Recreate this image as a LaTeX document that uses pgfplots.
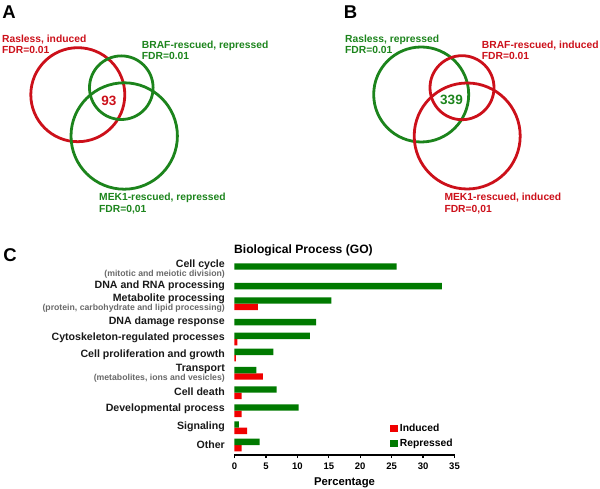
\documentclass[border=0pt]{standalone}
\usepackage{fontspec}
\setmainfont{Liberation Sans}
\usepackage{pgfplots}
\pgfplotsset{compat=1.18}
\definecolor{vred}{RGB}{204,16,26}
\definecolor{vgreen}{RGB}{28,132,28}
\definecolor{bred}{RGB}{240,0,0}
\definecolor{bgreen}{RGB}{0,122,0}
\definecolor{subgray}{RGB}{105,105,105}
\definecolor{txt}{RGB}{25,25,25}
\newcommand{\lab}{\fontsize{10.3}{11.3}\selectfont\bfseries}
\newcommand{\cat}{\fontsize{10.6}{11.6}\selectfont\bfseries}
\newcommand{\sublab}{\fontsize{8.7}{9}\selectfont\bfseries\color{subgray}}
\newcommand{\panel}{\fontsize{18.5}{20}\selectfont\bfseries}

\begin{document}
\begin{tikzpicture}
\useasboundingbox (0,0) rectangle (600pt,488pt);

% overlay axis: one unit = one pixel of the reference, y counted from the bottom
\begin{axis}[hide axis, scale only axis, width=600pt, height=488pt,
    xmin=0, xmax=600, ymin=0, ymax=488,
    at={(0pt,0pt)}, anchor=south west, clip=false]

  % panel letters
  \node[font=\panel] at (axis cs:9,476) {A};
  \node[font=\panel] at (axis cs:350.5,476) {B};
  \node[font=\panel] at (axis cs:10,233) {C};

  % Venn A
  \draw[vred, line width=2.8pt] (axis cs:77.8,393.3) circle[radius=47pt];
  \draw[vgreen, line width=2.8pt] (axis cs:121.3,400.3) circle[radius=31.8pt];
  \draw[vgreen, line width=2.8pt] (axis cs:124.2,352) circle[radius=53.2pt];
  \node[font=\fontsize{13.5}{14}\selectfont\bfseries, text=vred] at (axis cs:109,387.2) {93};
  \node[anchor=west, align=left, text=vred, font=\lab, inner sep=0pt] at (axis cs:2,443.5) {Rasless, induced\\FDR=0.01};
  \node[anchor=west, align=left, text=vgreen, font=\lab, inner sep=0pt] at (axis cs:141.7,437.5) {BRAF-rescued, repressed\\FDR=0.01};
  \node[anchor=west, align=left, text=vgreen, font=\lab, inner sep=0pt] at (axis cs:99,284.5) {MEK1-rescued, repressed\\FDR=0,01};

  % Venn B
  \draw[vgreen, line width=2.8pt] (axis cs:421.2,393.5) circle[radius=47.5pt];
  \draw[vred, line width=2.8pt] (axis cs:462,400.3) circle[radius=32pt];
  \draw[vred, line width=2.8pt] (axis cs:467.2,352) circle[radius=53pt];
  \node[font=\fontsize{13.5}{14}\selectfont\bfseries, text=vgreen] at (axis cs:451.5,388) {339};
  \node[anchor=west, align=left, text=vgreen, font=\lab, inner sep=0pt] at (axis cs:345,443.5) {Rasless, repressed\\FDR=0.01};
  \node[anchor=west, align=left, text=vred, font=\lab, inner sep=0pt] at (axis cs:481.7,437.5) {BRAF-rescued, induced\\FDR=0.01};
  \node[anchor=west, align=left, text=vred, font=\lab, inner sep=0pt] at (axis cs:444.3,284.5) {MEK1-rescued, induced\\FDR=0,01};

  % chart title
  \node[anchor=west, inner sep=0pt, font=\fontsize{12.1}{13}\selectfont\bfseries] at (axis cs:234,237.3) {Biological Process (GO)};
\end{axis}

% bar chart: y = minus the pixel row of the reference
\begin{axis}[at={(234.5pt,33pt)}, anchor=south west,
    scale only axis, width=220pt, height=197pt,
    xmin=0, xmax=35, ymin=-455, ymax=-258,
    xbar, bar width=6.4pt, bar shift=0pt,
    axis x line*=bottom, axis y line*=left,
    y axis line style={draw=none},
    x axis line style={line width=1.2pt},
    xtick={0,5,...,35}, tick align=outside, major tick length=3pt,
    xtick style={line width=1.2pt, black},
    ytick style={draw=none},
    /pgf/number format/assume math mode=true,
    xticklabel style={font=\fontsize{9.5}{10}\selectfont\bfseries, inner sep=0pt, yshift=-5pt},
    ytick={-269.3,-285.5,-303,-322,-338,-354.3,-373.5,-391.7,-409,-426.7,-445},
    yticklabels={
      {Cell cycle\\[-3pt]{\sublab (mitotic and meiotic division)}},
      {DNA and RNA processing},
      {Metabolite processing\\[-3pt]{\sublab (protein, carbohydrate and lipid processing)}},
      {DNA damage response},
      {Cytoskeleton-regulated processes},
      {Cell proliferation and growth},
      {Transport\\[-3pt]{\sublab (metabolites, ions and vesicles)}},
      {Cell death},
      {Developmental process},
      {Signaling},
      {Other}},
    yticklabel style={align=right, inner sep=0pt, font=\cat, text=txt, xshift=-6.5pt},
    xlabel={Percentage},
    xlabel style={font=\fontsize{11.3}{12}\selectfont\bfseries, at={(axis description cs:0.5,0)}, anchor=center, yshift=-28pt},
    legend style={at={(axis cs:24.74,-421.8)}, anchor=north west, draw=none, fill=none,
      inner sep=0pt, row sep=2pt, font=\lab, cells={anchor=west}},
    legend image code/.code={\fill (0pt,-3.8pt) rectangle (7.7pt,3.8pt);},
    clip=false]

  \addplot[draw=none, fill=bred] coordinates {
    (3.7,-306.9) (0.45,-342.2) (0.2,-358.2) (4.5,-376.5)
    (1.15,-395.9) (1.15,-413.9) (2.0,-430.9) (1.15,-448.2)};
  \addlegendentry{Induced}

  \addplot[draw=none, fill=bgreen] coordinates {
    (25.8,-266.5) (33.0,-286.1) (15.4,-300.5) (13.0,-322.1)
    (12.0,-335.8) (6.2,-351.8) (3.5,-370.1) (6.7,-389.5)
    (10.2,-407.5) (0.7,-424.5) (4.0,-441.8)};
  \addlegendentry{Repressed}
\end{axis}
\end{tikzpicture}
\end{document}
